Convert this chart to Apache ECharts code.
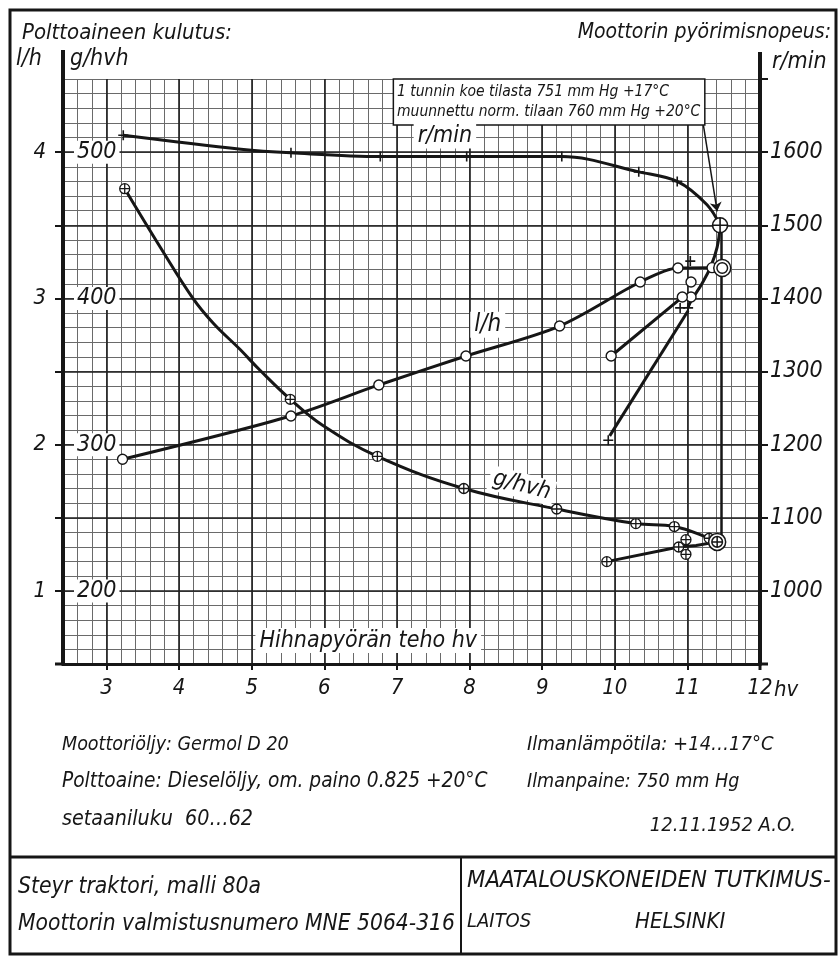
<!DOCTYPE html>
<html><head><meta charset="utf-8">
<script src="https://cdn.jsdelivr.net/npm/echarts@6/dist/echarts.min.js"></script>
<style>html,body{margin:0;padding:0;background:#fff}#c{width:838px;height:956px}</style>
</head><body><div id="c"></div>
<script>
// ---------- tick labels ----------
const xTicks = [3, 4, 5, 6, 7, 8, 9, 10, 11, 12];
const lhTicks = [1, 2, 3, 4];
const lhHalfTicks = [1, 1.5, 2, 2.5, 3, 3.5, 4];
const gTicks = [200, 300, 400, 500];
const rpmTicks = [1000, 1100, 1200, 1300, 1400, 1500, 1600];
const majorX = [3, 4, 5, 6, 7, 8, 9, 10, 11];
const majorY = [1, 1.5, 2, 2.5, 3, 3.5, 4];

// ---------- r/min (engine speed) ----------
const rpmCurve = [[3.23,1623],[4.85,1604],[5.54,1599],[6.77,1594],[7.96,1594],[9.27,1594],[10.33,1573],[10.86,1560],[11.27,1528],[11.45,1500]];
const rpmDroop = [[11.45,1500],[11.41,1470],[11.32,1443],[11.20,1420],[11.06,1398],[11.01,1388]];
const rpmTail = [[11.01,1383],[9.93,1212]];
const rpmPoints = [[3.23,1623],[5.54,1599],[6.77,1594],[7.96,1594],[9.27,1594],[10.33,1573],[10.86,1560],[11.04,1451],[10.90,1387],[11.01,1387],[9.91,1206]];
const rpmMax = [[11.45,1500]];

// ---------- l/h (fuel consumption) ----------
const lhCurve = [[3.22,1.90],[5.54,2.196],[6.75,2.408],[7.95,2.606],[9.24,2.811],[10.35,3.112],[10.87,3.208],[11.34,3.21],[11.48,3.208]];
const lhLower = [[11.05,3.009],[10.93,3.009],[9.95,2.606]];
const lhPoints = [[3.22,1.90],[5.54,2.196],[6.75,2.408],[7.95,2.606],[9.24,2.811],[10.35,3.112],[10.87,3.208],[11.34,3.21],[11.05,3.112],[11.05,3.009],[10.93,3.009],[9.95,2.606]];
const lhMax = [[11.48,3.208]];

// ---------- g/hvh (specific consumption) ----------
const gCurve = [[3.25,475],[3.74,435],[4.19,400],[4.47,383],[4.84,365],[5.11,351],[5.53,331],[5.98,313],[6.73,292],[7.92,270],[9.20,256],[10.29,246],[10.82,244],[11.30,236],[11.41,233.5]];
const gLower = [[11.41,233.5],[11.12,231],[10.88,230],[9.89,220]];
const gPoints = [[3.25,475],[5.53,331],[6.73,292],[7.92,270],[9.20,256],[10.29,246],[10.82,244],[11.30,236],[10.98,235],[10.88,230],[10.98,225],[9.89,220]];
const gMax = [[11.41,233.5]];
const maxPowerX = 11.46;

// annotation box corners (x, r/min)
const noteBox = [[6.95, 1700], [11.24, 1637]];
const noteArrow = [[11.22, 1637], [11.41, 1519]];

const FONT = "'Liberation Sans Narrow','DejaVu Sans Condensed','Liberation Sans',sans-serif";
const INK = '#161616';

const PLUS = 'path://M0,6H12M6,0V12';
const OPLUS = 'path://M0,6A6,6 0 1,1 12,6A6,6 0 1,1 0,6ZM0,6H12M6,0V12';
const DCIRC = 'path://M0,8A8,8 0 1,1 16,8A8,8 0 1,1 0,8ZM3,8A5,5 0 1,1 13,8A5,5 0 1,1 3,8Z';
const DOPLUS = 'path://M0,8A8,8 0 1,1 16,8A8,8 0 1,1 0,8ZM3,8A5,5 0 1,1 13,8A5,5 0 1,1 3,8ZM3,8H13M8,3V13';

const Y_LH = 0, Y_G = 1, Y_RPM = 2;

const lbl = (size) => ({fontSize: size, fontFamily: FONT, fontStyle: 'italic', color: INK, formatter: v => String(v)});
const lineS = (data, yi, smooth, w) => ({type: 'line', xAxisIndex: 0, yAxisIndex: yi, data: data, smooth: smooth, symbol: 'none', silent: true, lineStyle: {color: INK, width: w || 3}, z: 3});
const markS = (data, yi, sym, size, bw) => ({type: 'scatter', xAxisIndex: 0, yAxisIndex: yi, data: data, symbol: sym, symbolSize: size, silent: true, itemStyle: {color: '#fff', borderColor: INK, borderWidth: bw || 1.5, opacity: 1}, z: 6});
const gridOnly = {axisLine: {show: false}, axisTick: {show: false}, axisLabel: {show: false},
  splitLine: {show: true, lineStyle: {color: '#6a6a6a', width: 1}}};

const chart = echarts.init(document.getElementById('c'), null, {renderer: 'canvas'});
const option = {
  animation: false,
  backgroundColor: '#fff',
  grid: {left: 63, right: 78, top: 79, bottom: 292},
  xAxis: [{
    type: 'value', min: 2.4, max: 12, z: 1,
    axisLine: {show: true, onZero: false, lineStyle: {color: INK, width: 3}},
    axisTick: {show: true, customValues: xTicks, length: 6, lineStyle: {color: INK, width: 2}},
    axisLabel: Object.assign({customValues: xTicks, margin: 13}, lbl(22)),
    splitLine: {show: false}
  }, Object.assign({type: 'value', position: 'top', min: 2.4, max: 12, interval: 0.2, z: 0}, gridOnly)],
  yAxis: [{
    type: 'value', position: 'left', min: 0.5, max: 4.5, z: 1,
    axisLine: {show: true, onZero: false, lineStyle: {color: INK, width: 4}},
    axisTick: {show: true, customValues: lhHalfTicks, length: 8, lineStyle: {color: INK, width: 2}},
    axisLabel: Object.assign({customValues: lhTicks, margin: 17}, lbl(22)),
    splitLine: {show: false}
  }, {
    type: 'value', position: 'left', min: 150, max: 550, interval: 50, z: 4,
    axisLine: {show: false}, axisTick: {show: false}, splitLine: {show: false},
    axisLabel: Object.assign({customValues: gTicks, inside: true, margin: 11, backgroundColor: '#fff', padding: [0, 3, 0, 3]}, lbl(23))
  }, {
    type: 'value', position: 'right', min: 900, max: 1700, interval: 100, z: 1,
    axisLine: {show: true, onZero: false, lineStyle: {color: INK, width: 4}},
    axisTick: {show: true, length: 8, lineStyle: {color: INK, width: 2}},
    axisLabel: Object.assign({customValues: rpmTicks, margin: 10}, lbl(23)),
    splitLine: {show: false}
  }, Object.assign({type: 'value', position: 'left', min: 0.5, max: 4.5, interval: 0.1, z: 0}, gridOnly)],
  series: [
    {type: 'line', xAxisIndex: 0, yAxisIndex: Y_LH, data: [], z: 1, silent: true,
     markLine: {z: 1, silent: true, symbol: 'none', animation: false, label: {show: false},
       lineStyle: {color: '#1e1e1e', width: 1.6, type: 'solid'},
       data: majorX.map(v => ({xAxis: v})).concat(majorY.map(v => ({yAxis: v})))}},
    Object.assign(lineS(rpmCurve, Y_RPM, 0.35), {
      markLine: {z: 3, silent: true, symbol: ['none', 'arrow'], symbolSize: 9, label: {show: false},
        lineStyle: {color: INK, width: 1.5, type: 'solid'},
        data: [[{coord: noteArrow[0]}, {coord: noteArrow[1]}]]}
    }),
    lineS(rpmDroop, Y_RPM, 0.4),
    lineS(rpmTail, Y_RPM, false),
    lineS(lhCurve, Y_LH, 0.3),
    lineS(lhLower, Y_LH, false),
    Object.assign(lineS(gCurve, Y_G, 0.4), {
      markLine: {z: 3, silent: true, symbol: 'none', label: {show: false},
        lineStyle: {color: INK, width: 2.5, type: 'solid'},
        data: [[{coord: [maxPowerX, 233.5]}, {coord: [maxPowerX, 450]}]]}
    }),
    lineS(gLower, Y_G, false),
    markS(rpmPoints, Y_RPM, PLUS, 10, 1.6),
    markS(rpmMax, Y_RPM, OPLUS, 15, 1.6),
    markS(lhPoints, Y_LH, 'circle', 10, 1.4),
    markS(lhMax, Y_LH, DCIRC, 17, 1.5),
    markS(gPoints, Y_G, OPLUS, 10, 1.3),
    markS(gMax, Y_G, DOPLUS, 17, 1.5)
  ]
};
chart.setOption(option);

function P(seriesIndex, pt) { return chart.convertToPixel({seriesIndex: seriesIndex}, pt); }
function T(text, x, y, size, align, extra) {
  return Object.assign({type: 'text', x: x, y: y, z: 100, silent: true,
    style: {text: text, fontSize: size, fontFamily: FONT, fontStyle: 'italic', fill: INK,
      align: align || 'left', verticalAlign: 'middle'}}, extra || {});
}
function L(x1, y1, x2, y2, w) {
  return {type: 'line', z: 100, silent: true, shape: {x1: x1, y1: y1, x2: x2, y2: y2}, style: {stroke: INK, lineWidth: w}};
}

const g0 = P(4, [2.4, 4.5]);
const gBR = P(4, [12, 0.5]);
const pRm = P(1, [7.66, 1622]);
const pLh = P(4, [8.25, 2.82]);
const pG = P(6, [8.72, 272]);
const pH = P(4, [5.05, 0.66]);
const pBox1 = P(1, [7.0, 1682]);
const pBox2 = P(1, [7.0, 1655]);
const pNA = P(1, noteBox[0]);
const pNB = P(1, noteBox[1]);
const p12 = P(4, [12, 0.5]);
const whiteBg = (t) => { t.style.backgroundColor = '#fff'; t.style.padding = [1, 4, 1, 4]; return t; };

const graphics = [
  {type: 'rect', z: 100, silent: true, shape: {x: 10, y: 10, width: 826, height: 944}, style: {fill: 'none', stroke: INK, lineWidth: 3}},
  {type: 'rect', z: 50, silent: true, shape: {x: pNA[0], y: pNA[1], width: pNB[0] - pNA[0], height: pNB[1] - pNA[1]}, style: {fill: '#fff', stroke: INK, lineWidth: 1.5}},
  L(10, 857, 836, 857, 3),
  L(461, 857, 461, 954, 2),
  L(g0[0], g0[1], g0[0], 50, 4),
  L(gBR[0], g0[1], gBR[0], 52, 4),
  L(g0[0] - 8, gBR[1], g0[0], gBR[1], 3),
  L(gBR[0], gBR[1], gBR[0] + 8, gBR[1], 3),
  L(gBR[0], gBR[1], gBR[0], gBR[1] + 6, 3),
  T('Polttoaineen kulutus:', 22, 33, 22),
  T('l/h', 16, 59, 23),
  T('g/hvh', 70, 59, 23),
  T('Moottorin pyörimisnopeus:', 831, 33, 21, 'right'),
  T('r/min', 772, 62, 23),
  T('hv', p12[0] + 14, p12[1] + 26, 22),
  whiteBg(T('r/min', pRm[0], pRm[1], 23, 'center')),
  whiteBg(T('l/h', pLh[0], pLh[1], 24, 'center')),
  whiteBg(T('g/hvh', pG[0], pG[1], 23, 'center', {rotation: -0.26})),
  whiteBg(T('Hihnapyörän teho hv', pH[0], pH[1], 23, 'left')),
  T('1 tunnin koe tilasta 751 mm Hg +17°C', pBox1[0], pBox1[1], 15.5),
  T('muunnettu norm. tilaan 760 mm Hg +20°C', pBox2[0], pBox2[1], 15.5),
  T('Moottoriöljy: Germol D 20', 62, 745, 19.5),
  T('Polttoaine: Dieselöljy, om. paino 0.825 +20°C', 62, 782, 20.7),
  T('setaaniluku  60…62', 62, 819, 21.3),
  T('Ilmanlämpötila: +14…17°C', 527, 745, 20),
  T('Ilmanpaine: 750 mm Hg', 527, 782, 19.5),
  T('12.11.1952 A.O.', 796, 826, 20, 'right'),
  T('Steyr traktori, malli 80a', 18, 887, 22.7),
  T('Moottorin valmistusnumero MNE 5064-316', 18, 924, 22.6),
  T('MAATALOUSKONEIDEN TUTKIMUS-', 467, 881, 23.7),
  T('LAITOS', 467, 922, 20),
  T('HELSINKI', 635, 922, 22)
];
chart.setOption({graphic: graphics});
</script>
</body></html>
